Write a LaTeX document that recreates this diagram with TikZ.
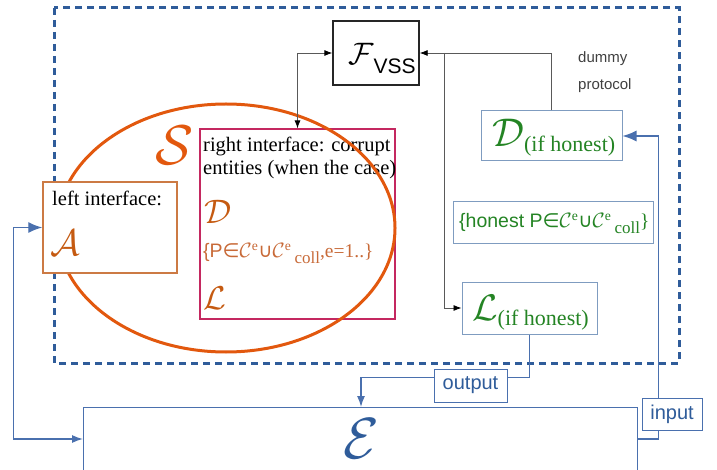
\documentclass[tikz,border=0pt]{standalone}
\usepackage{fontspec}
\setmainfont{Liberation Serif}
\setsansfont{Liberation Sans}
\newfontfamily\djv{DejaVu Sans}
\usetikzlibrary{arrows.meta}
\definecolor{dblue}{HTML}{2F5C9A}
\definecolor{lblue}{HTML}{4A70AE}
\definecolor{ell}{HTML}{E2580E}
\definecolor{brn}{HTML}{C55A11}
\definecolor{ltbrn}{HTML}{C86A38}
\definecolor{lbrd}{HTML}{CC7A44}
\definecolor{crim}{HTML}{C42860}
\definecolor{grn}{HTML}{248424}
\definecolor{gbd}{HTML}{7F9CC0}
\newcommand\fsz[1]{\fontsize{#1}{#1}\selectfont}
\newcommand\bigcal[2]{\scalebox{#1}{\fsz{10}$\mathcal{#2}$}}
\newcommand\Ce{$\mathcal{C}^{\mathrm{e}}$}
\newcommand\coll{\raisebox{-6pt}{\fsz{17}coll}}
\tikzset{
  blk/.style={draw=black!65, line width=0.8pt},
  blkarr/.tip={Latex[length=8pt,width=6pt,black]},
  blc/.style={draw=lblue, line width=1.3pt},
  bigarr/.tip={Latex[length=14pt,width=11pt]},
  smarr/.tip={Latex[length=11pt,width=8pt]},
  gbox/.style={draw=gbd, line width=1pt, fill=white, inner sep=0pt},
  lbl/.style={draw=lblue, line width=1pt, fill=white, text=dblue, font=\sffamily\fsz{20}, inner sep=0pt},
  txt/.style={anchor=base west, inner sep=0pt},
}
\begin{document}
\begin{tikzpicture}[x=1pt,y=-1pt]
\useasboundingbox (0,0) rectangle (717,470);
\clip (0,0) rectangle (717,470);
% dashed environment
\draw[dblue, line width=3pt, dash pattern=on 7pt off 5pt] (54,8) rectangle (679,363);
% F_VSS
\node[draw=black!85, line width=1.3pt, minimum width=86pt, minimum height=64pt, inner sep=0pt] (F) at (376,53) {};
\node[txt] (Ftxt) at (348,65) {\bigcal{3.1}{F}\raisebox{-9pt}{\sffamily\fsz{21}VSS}};
% right interface box
\node[draw=crim, line width=1.2pt, minimum width=195pt, minimum height=190pt, inner sep=0pt] (RI) at (297.5,224) {};
\node[txt] (r1) at (203,152) {\fsz{20.5}right interface: corrupt};
\node[txt] (r2) at (203,175) {\fsz{20.5}entities (when the case)};
\node[txt, text=brn] (rD) at (204,224) {\bigcal{3.4}{D}};
\node[txt, text=ltbrn] (rP) at (203,258) {\fsz{19.5}{\sffamily\{P}{\djv ∈}\Ce{\djv ∪}\Ce\,\coll,e=1..\}};
\node[txt, text=brn] (rL) at (203,309) {\bigcal{3.3}{L}};
% ellipse S
\draw[ell, line width=3pt] (226,228) ellipse [x radius=169pt, y radius=124pt];
\node[txt, text=ell] (S) at (155,165) {\bigcal{5.6}{S}};
% left interface
\node[draw=lbrd, line width=1.5pt, fill=white, minimum width=134pt, minimum height=91pt, inner sep=0pt] (LI) at (110,227.5) {};
\node[txt] (l1) at (52,206) {\fsz{20.5}left interface:};
\node[txt, text=brn] (lA) at (50,256) {\bigcal{3.7}{A}};
% green boxes
\node[gbox, minimum width=141pt, minimum height=50pt] (D2) at (551.5,136) {};
\node[txt, text=grn] (D2t) at (492,147) {\bigcal{4.0}{D}\raisebox{-5pt}{\fsz{22}(if honest)}};
\node[gbox, minimum width=200pt, minimum height=42pt] (HP) at (553,223) {};
\node[txt, text=grn] (HPt) at (459,228) {\fsz{19.5}{\sffamily\{honest P}{\djv ∈}\Ce{\djv ∪}\Ce\,\coll\}};
\node[gbox, minimum width=135pt, minimum height=52pt] (L2) at (529.5,308) {};
\node[txt, text=grn] (L2t) at (472,320) {\bigcal{3.7}{L}\raisebox{-5pt}{\fsz{22}(if honest)}};
% dummy protocol
\node[txt, text=black!75, font=\sffamily\fsz{15}] (dm) at (578,63) {dummy};
\node[txt, text=black!75, font=\sffamily\fsz{15}] (pr) at (578,90) {protocol};
% environment E
\node[draw=lblue, line width=1.3pt, minimum width=554pt, minimum height=93pt, inner sep=0pt, anchor=north west] (Ebox) at (83,407) {};
\node[txt, text=dblue] (E) at (343,458) {\bigcal{5.8}{E}};
\coordinate (Ein) at (83,439);
\coordinate (Eout) at (361,407);
\coordinate (Eright) at (637,439);
\coordinate (j) at (444,53);
% black connectors
\draw[blk, blkarr-blkarr] (F.west) -| (RI.north);
\draw[blk, -blkarr] (D2.north) |- (F.east);
\draw[blk, -blkarr] (j) |- (L2.west);
% blue connectors
\draw[blc, bigarr-smarr] (LI.west) -- ++(-29,0) |- (Ein);
\draw[blc, -smarr] (L2.south) -- ++(0,43) -| (Eout);
\draw[blc, -bigarr] (Eright) -| ([xshift=36pt]D2.east) -- (D2.east);
% labels
\node[lbl, minimum width=73pt, minimum height=33pt] (out) at (470.5,385.5) {output};
\node[lbl, minimum width=60pt, minimum height=32pt] (in) at (672,414) {input};
\end{tikzpicture}
\end{document}
